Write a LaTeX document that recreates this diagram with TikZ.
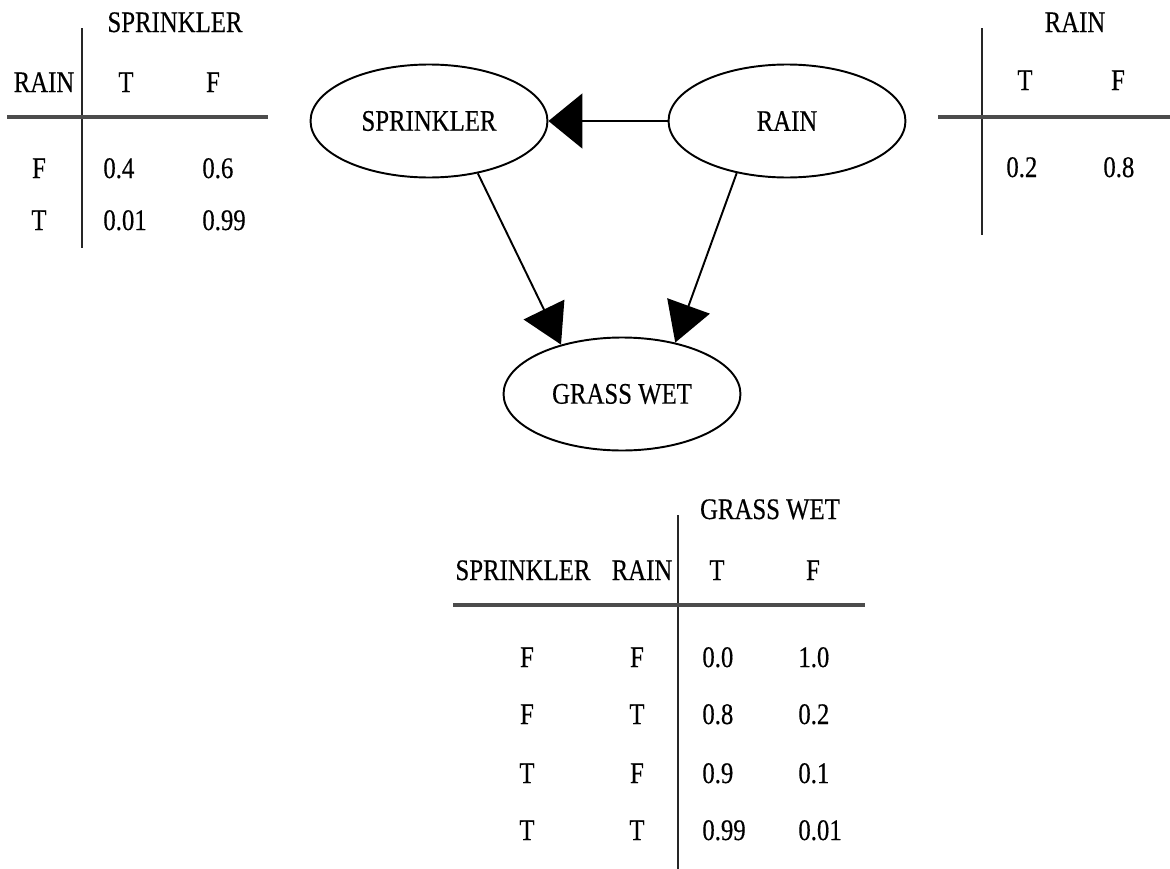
\documentclass[tikz,border=0pt]{standalone}
\usepackage{fontspec}
\setmainfont{Liberation Serif}[FakeStretch=0.83,FakeBold=0.4]
\usetikzlibrary{arrows.meta,shapes.geometric}

\begin{document}
\begin{tikzpicture}[x=0.02cm,y=-0.02cm,
		every node/.style={font=\fontsize{17}{20}\selectfont, inner sep=0pt},
		Var/.style={draw, ellipse, line width=1.1pt, minimum width=4.74cm, minimum height=2.26cm},
		Link/.style={line width=1.1pt, -{Triangle[length=0.68cm,width=1.1cm]}},
		SlantLink/.style={line width=1.1pt, -{Triangle[length=0.78cm,width=0.9cm]}},
		Rule/.style={line width=2pt, black!70},
		Bar/.style={line width=1.1pt, black!85},
		Lbl/.style={anchor=base},
		Num/.style={anchor=base west}]
		\useasboundingbox (0,0) rectangle (1170,869);

		\node [Var] (Sprinkler) at (429,121) {SPRINKLER};
		\node [Var] (Rain) at (787,121) {RAIN};
		\node [Var] (GrassWet) at (622,394) {GRASS WET};

		\draw [Link] (Rain) -- (Sprinkler);
		\draw [SlantLink] (Sprinkler.-47) -- (GrassWet.141);
		\draw [SlantLink] (Rain.-134) -- (GrassWet.44);

		\node [Lbl] (SprHead) at (175,32) {SPRINKLER};
		\node [Lbl] (SprGiven) at (44,92) {RAIN};
		\node [Lbl] (SprT) at (126,92) {T};
		\node [Lbl] (SprF) at (213,92) {F};
		\draw [Bar] (82,28) -- (82,248);
		\draw [Rule] (7,117) -- (268,117);
		\foreach \y/\c/\p/\q in {178/F/0.4/0.6, 230/T/0.01/0.99} {
			\node [Lbl] (SprRow\c) at (39,\y) {\c};
			\node [Num] (SprTrue\c) at (103,\y) {\p};
			\node [Num] (SprFalse\c) at (202,\y) {\q};
		}

		\node [Lbl] (RainHead) at (1075,32) {RAIN};
		\node [Lbl] (RainT) at (1025,90) {T};
		\node [Lbl] (RainF) at (1118,90) {F};
		\node [Num] (RainTrue) at (1006,177) {0.2};
		\node [Num] (RainFalse) at (1103,177) {0.8};
		\draw [Bar] (982,28) -- (982,235);
		\draw [Rule] (938,117) -- (1170,117);

		\node [Lbl] (WetHead) at (770,519) {GRASS WET};
		\node [Lbl] (WetGivenS) at (523,580) {SPRINKLER};
		\node [Lbl] (WetGivenR) at (642,580) {RAIN};
		\node [Lbl] (WetT) at (717,580) {T};
		\node [Lbl] (WetF) at (813,580) {F};
		\draw [Bar] (678,515) -- (678,869);
		\draw [Rule] (453,605) -- (865,605);
		\foreach \y/\s/\r/\p/\q [count=\i] in {667/F/F/0.0/1.0, 724/F/T/0.8/0.2, 783/T/F/0.9/0.1, 840/T/T/0.99/0.01} {
			\node [Lbl] (WetRowS\i) at (527,\y) {\s};
			\node [Lbl] (WetRowR\i) at (637,\y) {\r};
			\node [Num] (WetTrue\i) at (702,\y) {\p};
			\node [Num] (WetFalse\i) at (798,\y) {\q};
		}
	\end{tikzpicture}
\end{document}
